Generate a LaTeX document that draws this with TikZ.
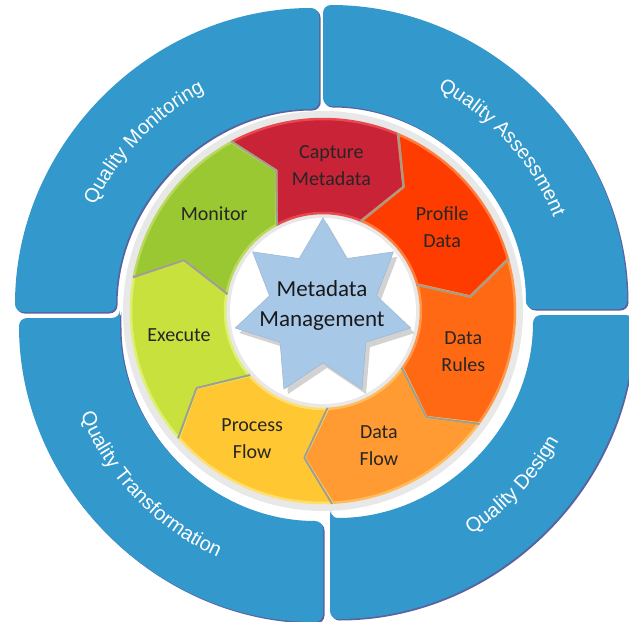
\documentclass[tikz,border=0pt]{standalone}
\usepackage{fontspec}
\usetikzlibrary{shapes.geometric,decorations.text}
\newfontfamily\qfont{Liberation Sans}
\newfontfamily\lfont{Carlito}
\definecolor{qblue}{RGB}{51,153,204}
\definecolor{qedge}{RGB}{88,100,160}
\definecolor{starblue}{RGB}{168,200,232}
\definecolor{capred}{RGB}{200,35,55}     \definecolor{caprim}{RGB}{232,72,78}
\definecolor{profred}{RGB}{255,60,0}     \definecolor{profrim}{RGB}{255,125,60}
\definecolor{rulesor}{RGB}{255,105,20}   \definecolor{rulesrim}{RGB}{255,150,72}
\definecolor{flowor}{RGB}{255,155,50}    \definecolor{flowrim}{RGB}{255,188,92}
\definecolor{procyel}{RGB}{255,200,50}   \definecolor{procrim}{RGB}{255,222,112}
\definecolor{execgr}{RGB}{200,225,60}    \definecolor{execrim}{RGB}{222,240,112}
\definecolor{mongr}{RGB}{153,200,50}     \definecolor{monrim}{RGB}{186,216,92}
\definecolor{sepgray}{RGB}{160,158,140}
\begin{document}
\begin{tikzpicture}[x=1pt,y=1pt,
  quad/.style={fill=qblue,rounded corners=8pt},
  quadshadow/.style={fill=qedge,rounded corners=8pt},
  qtext/.style={decorate,decoration={text along path,text align=center,
    text color=white,text={|\qfont\fontsize{20}{20}\selectfont|#1}}},
  seg/.style={line width=2.5pt,line join=round},
  sep/.style={draw=sepgray,line width=2pt,line join=round},
  lbl/.style={font=\lfont\fontsize{20}{27}\selectfont,align=center,text=black!85},
  mgmt/.style={font=\lfont\fontsize{23}{30}\selectfont,align=center,text=black!90},
  starshape/.style={star,star points=7,star point ratio=1.64,minimum size=180pt,inner sep=0pt}]

\useasboundingbox (-321,-307) rectangle (308,314);

% outer blue quadrants
\foreach \s/\sx/\sy in {0/2/5, 90/-2/2, 180/2/-4, 270/9/-1} {
  \fill[quadshadow,shift={(\sx+1.5,\sy-1.5)}] (\s:203) -- (\s:304) arc[start angle=\s,end angle=\s+90,radius=304]
    -- (\s+90:203) arc[start angle=\s+90,end angle=\s,radius=203] -- cycle;
  \fill[quad,shift={(\sx,\sy)}] (\s:203) -- (\s:304) arc[start angle=\s,end angle=\s+90,radius=304]
    -- (\s+90:203) arc[start angle=\s+90,end angle=\s,radius=203] -- cycle;
}

\path[qtext=Quality Monitoring,shift={(-2,2)}] (180:248) arc[start angle=180,end angle=92,radius=248];
\path[qtext=Quality Assessment,shift={(2,5)}] (87:248) arc[start angle=87,end angle=-3,radius=248];
\path[qtext=Quality Design,shift={(9,-1)}] (-90:261) arc[start angle=-90,end angle=4,radius=261];
\path[qtext=Quality Transformation,shift={(2,-4)}] (180:261) arc[start angle=180,end angle=268,radius=261];

% inner cycle
\begin{scope}[shift={(2,3)}]
\fill[gray!18] (0,0) circle (200);
\fill[white] (0,0) circle (93);
\foreach \a/\col/\rim/\nm/\txt in {118.4/capred/caprim/cap/{Capture\\Metadata},
    67/profred/profrim/prof/{Profile\\Data}, 15.6/rulesor/rulesrim/rules/{Data\\Rules},
    -35.8/flowor/flowrim/dflow/{Data\\Flow}, -87.3/procyel/procrim/pflow/{Process\\Flow},
    -138.7/execgr/execrim/exec/Execute, -190.1/mongr/monrim/mon/Monitor} {
  \pgfmathsetmacro\lead{\a-51.43}
  \filldraw[seg,fill=\col,draw=\rim] (\a:192) arc[start angle=\a,end angle=\lead,radius=192]
    -- (\lead-10:148) -- (\lead:98) arc[start angle=\lead,end angle=\a,radius=98]
    -- (\a-10:148) -- cycle;
  \node[lbl] (\nm) at (\a-31.7:146) {\txt};
}
\foreach \a in {118.4,67,15.6,-35.8,-87.3,-138.7,-190.1}
  \draw[sep] (\a:193) -- (\a-10:148) -- (\a:97);
\end{scope}

% star
\node[starshape,fill=gray!35] (starshadow) at (6,1) {};
\node[starshape,fill=starblue,draw=starblue!80!gray,line width=0.6pt] (star) at (2,6) {};
\node[mgmt] (mm) at (1,9) {Metadata\\Management};

\end{tikzpicture}
\end{document}
